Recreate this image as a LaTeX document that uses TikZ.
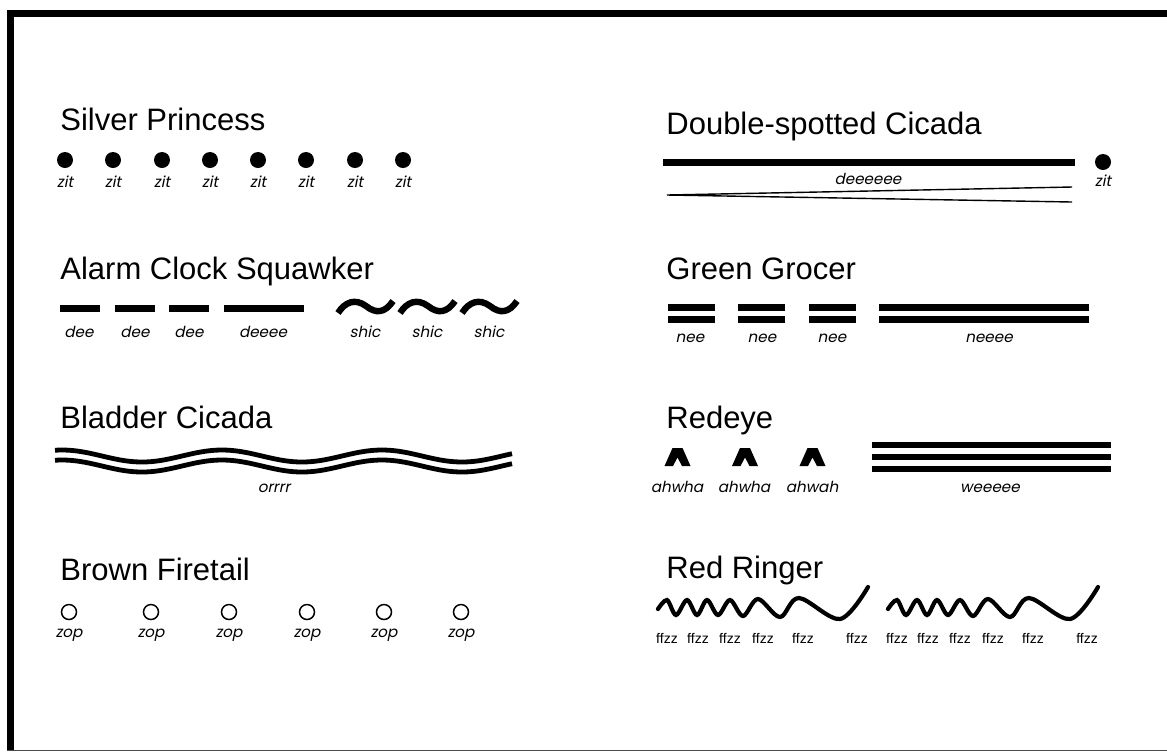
\documentclass[tikz,border=0pt]{standalone}
\usepackage{fontspec}
\setmainfont{Liberation Sans}
\newfontfamily\callfont[FakeSlant=0.2]{Poppins}
\usetikzlibrary{positioning}

\tikzset{
  title/.style={anchor=base west, inner sep=0pt, font=\fontsize{15.5}{18}\selectfont},
  call/.style={anchor=base, inner sep=0pt, font=\callfont\fontsize{7.6}{9}\selectfont},
  buzz/.style={anchor=base, inner sep=0pt, font=\fontsize{7}{9}\selectfont},
  bar/.style={line width=3.5pt},
  thinbar/.style={line width=3.2pt},
}

\begin{document}
\begin{tikzpicture}[x=0.5pt, y=-0.5pt]
  \useasboundingbox (0,0) rectangle (1167,752);
  % frame
  \draw[line width=3.5pt, miter limit=4] (1167,13.5) -- (10.5,13.5) -- (10.5,750);
  \draw[line width=0.8pt, black!70] (7,750.5) -- (1167,750.5);

  % Silver Princess
  \node[title] (silver) at (60,130) {Silver Princess};
  \foreach \x [count=\i] in {65,113,162,210,258,306,355,403} {
    \fill (\x,160) circle (8);
    \node[call] (zit\i) at (\x,187) {zit};
  }

  % Alarm Clock Squawker
  \node[title] (alarm) at (60,279) {Alarm Clock Squawker};
  \draw[bar] (60,308.5) -- (100,308.5);
  \draw[bar] (115,308.5) -- (155,308.5);
  \draw[bar] (169,308.5) -- (209,308.5);
  \draw[bar] (224,308.5) -- (304,308.5);
  \node[call] (dee1) at (79,337) {dee};
  \node[call] (dee2) at (135,337) {dee};
  \node[call] (dee3) at (189,337) {dee};
  \node[call] (deeee) at (263,337) {deeee};
  \foreach \x [count=\i] in {338,400,462} {
    \draw[line width=3.2pt] (\x,313) .. controls (\x+7,302) and (\x+17,298) .. (\x+28,306)
      .. controls (\x+38,314) and (\x+47,313) .. (\x+55,301);
    \node[call] (shic\i) at (\x+27,337) {shic};
  }

  % Bladder Cicada
  \node[title] (bladder) at (60,428) {Bladder Cicada};
  \draw[line width=2.4pt] plot[domain=55:512, samples=120] (\x, {456-6*cos((\x-62)*2.25)});
  \draw[line width=2.4pt] plot[domain=55:512, samples=120] (\x, {466-6*cos((\x-62)*2.25)});
  \node[call] (orrrr) at (274,492) {orrrr};

  % Brown Firetail
  \node[title] (brown) at (60,580) {Brown Firetail};
  \foreach \x [count=\i] in {69,151,229,307,384,461} {
    \draw[line width=0.75pt] (\x,612) circle (7.5);
    \node[call] (zop\i) at (\x,637) {zop};
  }

  % Double-spotted Cicada
  \node[title] (double) at (666,134) {Double-spotted Cicada};
  \draw[bar] (663,162) -- (1075,162);
  \fill (1103,162) circle (8);
  \node[call] (deeeeee) at (868,184) {deeeeee};
  \node[call] (zitR) at (1103,186) {zit};
  \draw[line width=0.7pt] (1072,187) -- (667,195) -- (1072,202);

  % Green Grocer
  \node[title] (green) at (666,279) {Green Grocer};
  \foreach \a/\b in {668/715,738/785,809/856,879/1089} {
    \draw[bar] (\a,307) -- (\b,307);
    \draw[bar] (\a,319) -- (\b,319);
  }
  \node[call] (nee1) at (690,342) {nee};
  \node[call] (nee2) at (762,342) {nee};
  \node[call] (nee3) at (832,342) {nee};
  \node[call] (neeee) at (989,342) {neeee};

  % Redeye
  \node[title] (redeye) at (666,428) {Redeye};
  \foreach \x in {677.5,745,812.5} {
    \fill (\x-5,448) -- (\x+5,448) -- (\x+13,466) -- (\x+4.5,466) -- (\x,457.5)
      -- (\x-4.5,466) -- (\x-13,466) -- cycle;
  }
  \node[call] (ahwha1) at (677,492) {ahwha};
  \node[call] (ahwha2) at (744,492) {ahwha};
  \node[call] (ahwah) at (812,492) {ahwah};
  \foreach \y in {445,457,469} {
    \draw[thinbar] (872,\y) -- (1111,\y);
  }
  \node[call] (weeeee) at (990,492) {weeeee};

  % Red Ringer
  \node[title] (ringer) at (666,578) {Red Ringer};
  \foreach \dx [count=\k] in {0,230} {
    \draw[line width=2.1pt, line cap=round] plot[smooth, tension=0.55] coordinates {
      (658+\dx,609) (667+\dx,600) (676+\dx,615) (687+\dx,600) (697+\dx,615) (707+\dx,600)
      (718+\dx,615) (730+\dx,600) (743+\dx,616) (758+\dx,599) (780+\dx,617) (799+\dx,598)
      (840+\dx,619) (868+\dx,587)};
    \foreach \x [count=\i] in {667,698,730,763,803,857} {
      \node[buzz] (ffzz\k\i) at (\x+\dx,643) {ffzz};
    }
  }
\end{tikzpicture}
\end{document}
